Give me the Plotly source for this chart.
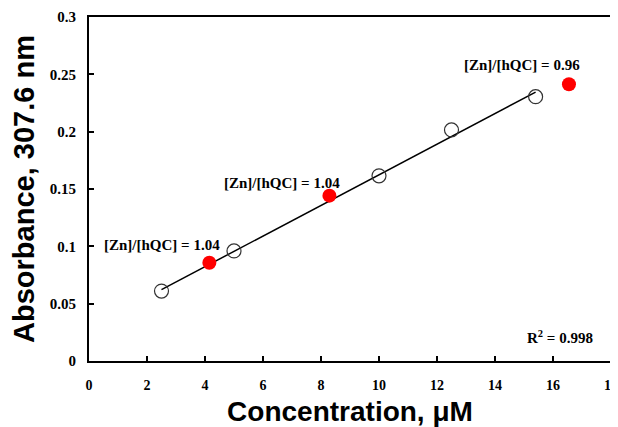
import numpy as np
import plotly.graph_objects as go

# Calibration (open circles)
cal_x = [2.5, 5.0, 10.0, 12.5, 15.4]
cal_y = [0.061, 0.096, 0.1615, 0.2015, 0.2305]
# Samples (red filled)
smp_x = [4.15, 8.29, 16.55]
smp_y = [0.0857, 0.1442, 0.2413]
smp_labels = ["[Zn]/[hQC] = 1.04", "[Zn]/[hQC] = 1.04", "[Zn]/[hQC] = 0.96"]
lab_x = [2.53, 6.65, 14.92]
lab_y = [0.101, 0.1555, 0.258]
r2_text = "R<sup>2</sup> = 0.998"

x_ticks = list(range(0, 19, 2))
y_ticks = [0, 0.05, 0.1, 0.15, 0.2, 0.25, 0.3]

slope, intercept = np.polyfit(cal_x, cal_y, 1)
fit_x = [min(cal_x), max(cal_x)]
fit_y = [slope * v + intercept for v in fit_x]

fig = go.Figure()
fig.add_trace(go.Scatter(x=fit_x, y=fit_y, mode="lines",
                         line=dict(color="black", width=1.5), showlegend=False))
fig.add_trace(go.Scatter(x=cal_x, y=cal_y, mode="markers",
                         marker=dict(symbol="circle-open", size=14,
                                     color="#333333", line=dict(width=1.2)),
                         showlegend=False))
fig.add_trace(go.Scatter(x=smp_x, y=smp_y, mode="markers",
                         marker=dict(symbol="circle", size=14, color="#ff0000"),
                         showlegend=False))

serif = "Liberation Serif"
for t, xx, yy in zip(smp_labels, lab_x, lab_y):
    fig.add_annotation(x=xx, y=yy, text="<b>" + t + "</b>", showarrow=False,
                       font=dict(family=serif, size=15, color="black"))
fig.add_annotation(x=16.24, y=0.0212, text="<b>" + r2_text + "</b>", showarrow=False,
                   font=dict(family=serif, size=15, color="black"))

axis_common = dict(showline=True, linecolor="black", linewidth=2, mirror=True,
                   ticks="inside", ticklen=5, tickwidth=2, tickcolor="black",
                   showgrid=False, zeroline=False, automargin=False)

fig.update_xaxes(range=[0, 18], tickvals=x_ticks,
                 ticktext=["<b>%d</b>" % v for v in x_ticks],
                 ticklabelstandoff=10,
                 tickfont=dict(family=serif, size=14, color="black"),
                 title=dict(text="<b>Concentration, μM</b>", standoff=22,
                            font=dict(family="Liberation Sans", size=28, color="black")),
                 **axis_common)
fig.update_yaxes(range=[0, 0.3], tickvals=y_ticks,
                 ticktext=["<b>%g</b>" % v for v in y_ticks],
                 ticklabelstandoff=8,
                 tickfont=dict(family=serif, size=15, color="black"),
                 title=dict(text="<b>Absorbance, 307.6 nm</b>", standoff=8,
                            font=dict(family="Liberation Sans", size=29, color="black")),
                 **axis_common)

# page body has an 8px default margin, so the figure is offset by 8px
fig.update_layout(width=610, height=419, margin=dict(l=81, r=7, t=9, b=66),
                  plot_bgcolor="white", paper_bgcolor="white")
fig.write_html("out.html")
